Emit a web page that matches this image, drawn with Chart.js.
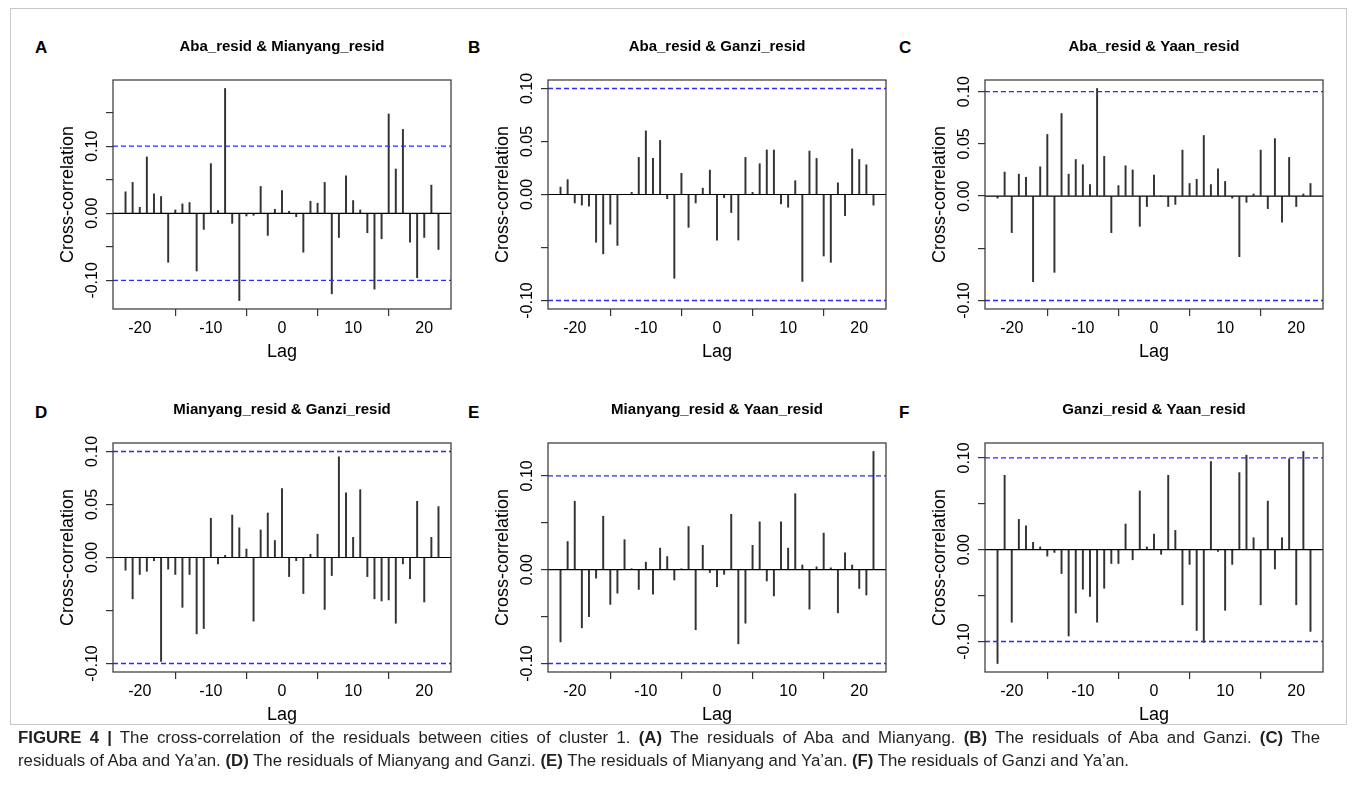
<!DOCTYPE html>
<html>
<head>
<meta charset="utf-8">
<script src="https://cdn.jsdelivr.net/npm/chart.js@4.4.1/dist/chart.umd.min.js"></script>
<style>
    body { margin: 0; background: #fff; width: 1357px; height: 812px; position: relative; overflow: hidden;
           font-family: "Liberation Sans", Arial, sans-serif; }
    .frame { position: absolute; left: 10px; top: 8px; width: 1337px; height: 717px; border: 1px solid #c8c8c8; box-sizing: border-box; }
    .panel { position: absolute; width: 430px; height: 346px; }
    .letter { position: absolute; font-weight: bold; font-size: 17px; line-height: 1; color: #000; }
    .caption { position: absolute; left: 18px; width: 1302px; font-size: 16.8px; line-height: 23px; color: #231f20; white-space: nowrap; }
    .cap1 { top: 726px; text-align: justify; text-align-last: justify; }
    .cap2 { top: 749px; }
</style>
</head>
<body>
<div class="frame"></div>

<div class="letter" style="left:35px;top:39px">A</div>
<div class="letter" style="left:468px;top:39px">B</div>
<div class="letter" style="left:899px;top:39px">C</div>
<div class="letter" style="left:35px;top:404px">D</div>
<div class="letter" style="left:468px;top:404px">E</div>
<div class="letter" style="left:899px;top:404px">F</div>

<div class="panel" style="left:30.7px;top:25px"><canvas id="chartA"></canvas></div>
<div class="panel" style="left:466.3px;top:25px"><canvas id="chartB"></canvas></div>
<div class="panel" style="left:903px;top:25px"><canvas id="chartC"></canvas></div>
<div class="panel" style="left:30.7px;top:388.3px"><canvas id="chartD"></canvas></div>
<div class="panel" style="left:466.3px;top:388.3px"><canvas id="chartE"></canvas></div>
<div class="panel" style="left:903px;top:388.3px"><canvas id="chartF"></canvas></div>

<div class="caption cap1"><b>FIGURE 4 |</b> The cross-correlation of the residuals between cities of cluster 1. <b>(A)</b> The residuals of Aba and Mianyang. <b>(B)</b> The residuals of Aba and Ganzi. <b>(C)</b> The</div>
<div class="caption cap2">residuals of Aba and Ya’an. <b>(D)</b> The residuals of Mianyang and Ganzi. <b>(E)</b> The residuals of Mianyang and Ya’an. <b>(F)</b> The residuals of Ganzi and Ya’an.</div>

<script>
// lags shown in every panel
const lags = [-22, -21, -20, -19, -18, -17, -16, -15, -14, -13, -12, -11, -10, -9, -8, -7, -6, -5, -4, -3, -2, -1,
              0, 1, 2, 3, 4, 5, 6, 7, 8, 9, 10, 11, 12, 13, 14, 15, 16, 17, 18, 19, 20, 21, 22];

const abaMianyang = [0.032, 0.046, 0.009, 0.084, 0.029, 0.025, -0.073, 0.005, 0.014, 0.016, -0.086, -0.024, 0.074, 0.004, 0.186, -0.015, -0.130, -0.004, -0.003, 0.040, -0.033, 0.006,
                     0.034, 0.003, -0.005, -0.058, 0.018, 0.015, 0.046, -0.120, -0.036, 0.056, 0.019, 0.005, -0.029, -0.113, -0.038, 0.148, 0.066, 0.125, -0.043, -0.096, -0.036, 0.042, -0.054];
const abaGanzi = [0.007, 0.014, -0.008, -0.010, -0.011, -0.045, -0.056, -0.028, -0.048, 0.000, 0.002, 0.035, 0.060, 0.034, 0.051, -0.004, -0.079, 0.020, -0.031, -0.008, 0.006, 0.023,
                  -0.043, -0.003, -0.017, -0.043, 0.035, 0.002, 0.029, 0.042, 0.042, -0.009, -0.012, 0.013, -0.082, 0.041, 0.034, -0.058, -0.064, 0.011, -0.020, 0.043, 0.033, 0.028, -0.010];
const abaYaan = [-0.002, 0.023, -0.035, 0.021, 0.018, -0.082, 0.028, 0.059, -0.073, 0.079, 0.021, 0.035, 0.030, 0.011, 0.103, 0.038, -0.035, 0.010, 0.029, 0.025, -0.029, -0.010,
                 0.020, 0.000, -0.010, -0.008, 0.044, 0.012, 0.016, 0.058, 0.011, 0.026, 0.014, -0.002, -0.058, -0.006, 0.002, 0.044, -0.012, 0.055, -0.025, 0.037, -0.010, 0.002, 0.012];
const mianyangGanzi = [-0.012, -0.039, -0.016, -0.013, -0.003, -0.098, -0.011, -0.016, -0.047, -0.016, -0.072, -0.067, 0.037, -0.006, 0.002, 0.040, 0.028, 0.008, -0.060, 0.026, 0.042, 0.016,
                       0.065, -0.018, -0.003, -0.034, 0.003, 0.022, -0.049, -0.017, 0.095, 0.061, 0.019, 0.064, -0.018, -0.039, -0.041, -0.040, -0.062, -0.006, -0.020, 0.053, -0.042, 0.019, 0.048];
const mianyangYaan = [-0.077, 0.030, 0.073, -0.062, -0.050, -0.009, 0.057, -0.037, -0.025, 0.032, 0.001, -0.021, 0.008, -0.026, 0.023, 0.014, -0.011, 0.001, 0.046, -0.064, 0.026, -0.003,
                      -0.018, -0.005, 0.059, -0.079, -0.057, 0.026, 0.051, -0.012, -0.028, 0.051, 0.023, 0.081, 0.005, -0.042, 0.003, 0.039, 0.002, -0.046, 0.018, 0.005, -0.020, -0.027, 0.126];
const ganziYaan = [-0.124, 0.081, -0.079, 0.033, 0.026, 0.008, 0.003, -0.007, -0.003, -0.026, -0.094, -0.069, -0.043, -0.051, -0.079, -0.042, -0.015, -0.015, 0.028, -0.011, 0.064, 0.003,
                   0.017, -0.005, 0.081, 0.021, -0.060, -0.016, -0.088, -0.101, 0.096, -0.002, -0.066, -0.016, 0.084, 0.103, 0.013, -0.060, 0.053, -0.021, 0.013, 0.099, -0.060, 0.107, -0.089];

const ciLevel = 0.1;   // blue dashed significance bounds
const xTicks = [-20, -10, 0, 10, 20];
const yTicksTall = [-0.10, -0.05, 0.00, 0.05, 0.10, 0.15];
const yTicks = [-0.10, -0.05, 0.00, 0.05, 0.10];
const yLabelsSparse = [-0.10, 0.00, 0.10];
const yLabelsDense = [-0.10, 0.00, 0.05, 0.10];

const FONT = '"Liberation Sans", Arial, sans-serif';
const INK = '#333';

// R-style frame, title and rotated y tick labels
const residFrame = {
    id: 'residFrame',
    afterDraw(chart, args, opts) {
        const {ctx, chartArea: a, scales: {y}} = chart;
        ctx.save();
        ctx.strokeStyle = INK;
        ctx.lineWidth = 1.2;
        ctx.strokeRect(a.left, a.top, a.right - a.left, a.bottom - a.top);

        ctx.fillStyle = '#000';
        ctx.textAlign = 'center';
        ctx.textBaseline = 'middle';
        ctx.font = 'bold 15px ' + FONT;
        ctx.fillText(opts.title, (a.left + a.right) / 2, a.top - 33);

        ctx.font = '16px ' + FONT;
        opts.yLabels.forEach(v => {
            ctx.save();
            ctx.translate(a.left - 20, y.getPixelForValue(v));
            ctx.rotate(-Math.PI / 2);
            ctx.fillText(v.toFixed(2), 0, 0);
            ctx.restore();
        });
        ctx.restore();
    }
};

function makePanel(id, title, values, tickVals, labelVals) {
    const lo = Math.min(-ciLevel, ...values);
    const hi = Math.max(ciLevel, ...values);
    const pad = (hi - lo) * 0.04;
    const xEdge = 22 * 1.08;
    const gridOpts = { drawOnChartArea: false, drawTicks: true, tickLength: 7, color: INK, lineWidth: 1.2 };
    const hLine = (v, color, dash, w) => ({
        type: 'line',
        data: [{x: -xEdge, y: v}, {x: xEdge, y: v}],
        borderColor: color, borderWidth: w, borderDash: dash,
        pointRadius: 0, fill: false
    });

    return new Chart(document.getElementById(id), {
        type: 'bar',
        data: {
            datasets: [
                hLine(ciLevel, '#2b2bff', [5, 3], 1.3),
                hLine(-ciLevel, '#2b2bff', [5, 3], 1.3),
                hLine(0, '#000', [], 1.2),
                {
                    type: 'bar',
                    data: lags.map((l, i) => ({x: l, y: values[i]})),
                    backgroundColor: INK,
                    borderWidth: 0,
                    barThickness: 1.3
                }
            ]
        },
        options: {
            responsive: true,
            maintainAspectRatio: false,
            animation: false,
            layout: { padding: { top: 55, right: 10, left: 0, bottom: 0 } },
            plugins: {
                legend: { display: false },
                tooltip: { enabled: false },
                residFrame: { title: title, yLabels: labelVals }
            },
            scales: {
                x: {
                    type: 'linear',
                    min: -xEdge, max: xEdge,
                    offset: false,
                    afterBuildTicks: s => { s.ticks = xTicks.map(v => ({value: v})); },
                    afterFit: s => { s.height = 62; },
                    ticks: { color: '#000', font: { size: 16, family: FONT }, padding: 3,
                             maxRotation: 0, minRotation: 0, autoSkip: false, callback: v => String(v) },
                    grid: gridOpts,
                    border: { display: false },
                    title: { display: true, text: 'Lag', color: '#000', font: { size: 18, family: FONT },
                             padding: { top: 0, bottom: 8 } }
                },
                y: {
                    type: 'linear',
                    min: lo - pad, max: hi + pad,
                    afterBuildTicks: s => { s.ticks = tickVals.map(v => ({value: v})); },
                    afterFit: s => { s.width = 82; },
                    ticks: { display: false },
                    grid: gridOpts,
                    border: { display: false },
                    title: { display: true, text: 'Cross-correlation', color: '#000', font: { size: 18, family: FONT },
                             padding: { top: 26.5, bottom: 0 } }
                }
            }
        },
        plugins: [residFrame]
    });
}

makePanel('chartA', 'Aba_resid & Mianyang_resid', abaMianyang, yTicksTall, yLabelsSparse);
makePanel('chartB', 'Aba_resid & Ganzi_resid', abaGanzi, yTicks, yLabelsDense);
makePanel('chartC', 'Aba_resid & Yaan_resid', abaYaan, yTicks, yLabelsDense);
makePanel('chartD', 'Mianyang_resid & Ganzi_resid', mianyangGanzi, yTicks, yLabelsDense);
makePanel('chartE', 'Mianyang_resid & Yaan_resid', mianyangYaan, yTicks, yLabelsSparse);
makePanel('chartF', 'Ganzi_resid & Yaan_resid', ganziYaan, yTicks, yLabelsSparse);
</script>
</body>
</html>
